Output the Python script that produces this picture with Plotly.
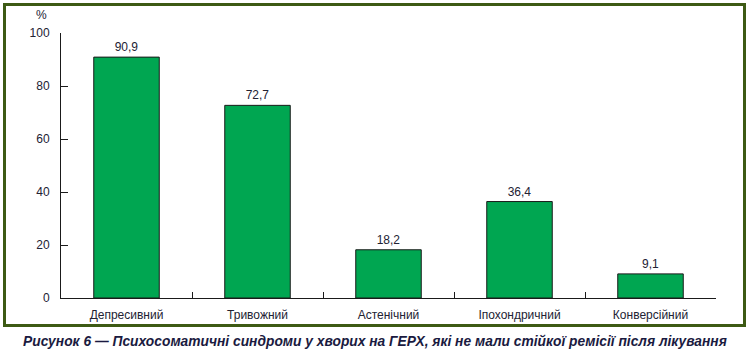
import plotly.graph_objects as go

categories = ["Депресивний", "Тривожний", "Астенічний", "Іпохондричний", "Конверсійний"]
values = [90.9, 72.7, 18.2, 36.4, 9.1]
value_labels = ["90,9", "72,7", "18,2", "36,4", "9,1"]
y_ticks = [0, 20, 40, 60, 80, 100]
caption = "Рисунок 6 — Психосоматичні синдроми у хворих на ГЕРХ, які не мали стійкої ремісії після лікування"

W, H = 749, 355
L, R, T, B = 61, 33, 33, 57
pw, ph = W - L - R, H - T - B

def px_x(p):
    return (p - L) / pw

def px_y(p):
    return (H - B - p) / ph

font = "Liberation Sans Narrow, Arial Narrow, Liberation Sans, Arial, sans-serif"

fig = go.Figure(go.Bar(
    x=categories, y=values, text=value_labels, textposition="outside",
    textfont=dict(family=font, size=12, color="#222233"),
    marker=dict(color="#00a651", line=dict(color="#1a1a1a", width=1)),
    width=0.5, cliponaxis=False,
))

fig.update_layout(
    width=W, height=H, margin=dict(l=L, r=R, t=T, b=B),
    paper_bgcolor="white", plot_bgcolor="white", showlegend=False,
    font=dict(family=font, size=12, color="#222233"),
    xaxis=dict(showline=True, linecolor="#1a1a1a", linewidth=1, ticks="inside",
               tickson="boundaries", ticklen=6, tickcolor="#1a1a1a", showgrid=False,
               ticklabelstandoff=6,
               tickfont=dict(family=font, size=12, color="#222233")),
    yaxis=dict(range=[0, 100], tickvals=y_ticks, showline=True, linecolor="#1a1a1a",
               linewidth=1, ticks="inside", ticklen=7, tickcolor="#1a1a1a",
               showgrid=False, zeroline=False, ticklabelstandoff=8,
               tickfont=dict(family=font, size=12, color="#222233")),
    shapes=[dict(type="rect", xref="paper", yref="paper",
                 x0=px_x(4.5), x1=px_x(744.5), y0=px_y(325.5), y1=px_y(4.5),
                 line=dict(color="#3d5a14", width=3), fillcolor="rgba(0,0,0,0)")],
    annotations=[
        dict(text="%", xref="paper", yref="paper", x=px_x(41), y=px_y(15),
             xanchor="center", yanchor="middle",
             showarrow=False, font=dict(family=font, size=12, color="#222233")),
        dict(text="<b><i>" + caption + "</i></b>", xref="paper", yref="paper",
             x=px_x(375), y=px_y(341), xanchor="center", yanchor="middle", showarrow=False,
             font=dict(family="Liberation Sans, Arial, sans-serif", size=13.8, color="#1a1a40")),
    ],
)

fig.write_html("out.html", config={"displayModeBar": False},
               post_script="document.body.style.margin='0';")
